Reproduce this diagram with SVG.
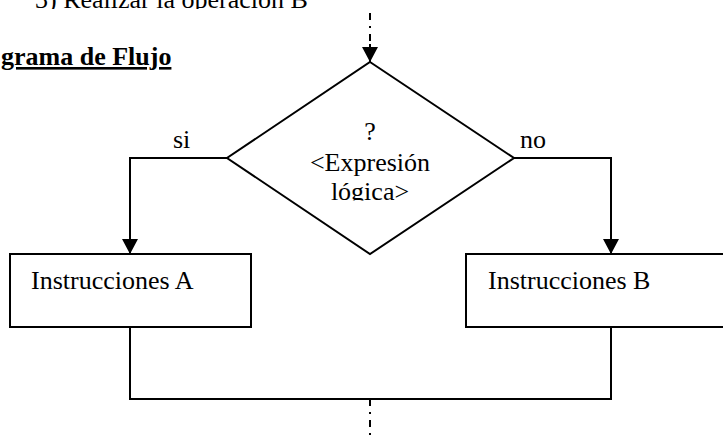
<svg xmlns="http://www.w3.org/2000/svg" width="723" height="441" viewBox="0 0 723 441">
<style>
.t{font-family:"Liberation Serif","Times New Roman",serif;font-size:26px;fill:#000}
.b{font-weight:bold;text-decoration:underline}
.s{fill:none;stroke:#000;stroke-width:2}
.d{fill:none;stroke:#000;stroke-width:2;stroke-dasharray:7 6 2 6}
.n{fill:#fff;stroke:#000;stroke-width:2}
</style>
<defs>
<marker id="ah" viewBox="0 0 15 16" refX="15" refY="8" markerWidth="15" markerHeight="16" markerUnits="userSpaceOnUse" orient="auto">
<path d="M0,0 L15,8 L0,16 Z" fill="#000"/>
</marker>
<clipPath id="cTop"><rect x="0" y="0" width="723" height="9"/></clipPath>
<clipPath id="cLbl"><rect x="0" y="100" width="723" height="48.5"/></clipPath>
<clipPath id="cExp"><rect x="0" y="100" width="723" height="100.5"/></clipPath>
</defs>
<rect width="723" height="441" fill="#fff"/>
<g id="header">
<text class="t" x="35" y="8" clip-path="url(#cTop)">3) Realizar la operación B</text>
<text class="t b" x="1" y="65">grama de Flujo</text>
</g>
<g id="connectors">
<line class="d" x1="370" y1="13" x2="370" y2="47"/>
<line class="s" x1="370" y1="44" x2="370" y2="62" marker-end="url(#ah)"/>
<polyline class="s" points="227,158 130,158 130,254" marker-end="url(#ah)"/>
<polyline class="s" points="514,158 611,158 611,254" marker-end="url(#ah)"/>
<polyline class="s" points="130,327 130,399 611,399 611,327"/>
<line class="d" x1="370" y1="399" x2="370" y2="441"/>
</g>
<g id="decision">
<polygon class="n" points="370,62 514,158 370,254 227,158"/>
<g clip-path="url(#cExp)">
<text class="t" x="370" y="140" text-anchor="middle">?</text>
<text class="t" x="370" y="171" text-anchor="middle">&lt;Expresión</text>
<text class="t" x="370" y="200" text-anchor="middle">lógica&gt;</text>
</g>
</g>
<g id="labels" clip-path="url(#cLbl)">
<text class="t" x="173" y="147.5">si</text>
<text class="t" x="520" y="147.5">no</text>
</g>
<g id="boxA">
<rect class="n" x="10" y="254" width="241" height="73"/>
<text class="t" x="31" y="289">Instrucciones A</text>
</g>
<g id="boxB">
<rect class="n" x="466" y="254" width="270" height="73"/>
<text class="t" x="488" y="289">Instrucciones B</text>
</g>
</svg>
